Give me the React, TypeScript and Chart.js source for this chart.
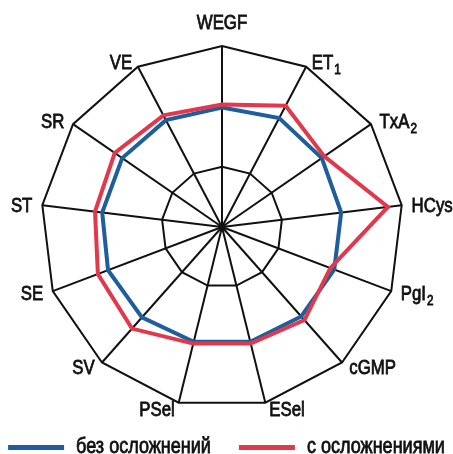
import { useEffect, useRef } from "react";
import { Chart, registerables } from "chart.js";

Chart.register(...registerables);

const categories = ["WEGF", "ET₁", "TxA₂", "HCys", "PgI₂", "cGMP", "ESel", "PSel", "SV", "SE", "ST", "SR", "VE"];
const seriesNames = ["без осложнений", "с осложнениями"];
const withoutComplications = [1.98, 2.04, 2.01, 1.99, 1.99, 1.98, 1.96, 1.96, 2.0, 2.02, 2.0, 2.01, 2.0];
const withComplications = [2.03, 2.27, 2.06, 2.77, 1.92, 2.06, 1.99, 1.99, 2.25, 2.2, 2.12, 2.16, 2.09];
const ringValues = [1, 3];
const scaleMax = 3;

const FONT = '"Liberation Sans", Arial, sans-serif';
const BLUE = "#1f5e9c";
const RED = "#e2384c";
const INK = "#111111";

// draw text horizontally condensed (the reference uses a condensed grotesque)
function drawCondensed(ctx: CanvasRenderingContext2D, text: string, x: number, y: number, sx: number) {
  ctx.save();
  ctx.translate(x, y);
  ctx.scale(sx, 1);
  ctx.fillText(text, 0, 0);
  ctx.strokeText(text, 0, 0);
  ctx.restore();
}

const hubPlugin = {
  id: "hub",
  beforeDatasetsDraw(chart: any) {
    const scale = chart.scales.r;
    const ctx = chart.ctx as CanvasRenderingContext2D;
    const c = scale.getPointPosition(0, 0);
    ctx.save();
    ctx.fillStyle = INK;
    ctx.beginPath();
    ctx.arc(c.x, c.y, 3.5, 0, Math.PI * 2);
    ctx.fill();
    ctx.restore();
  },
};

const axisLabelPlugin = {
  id: "axisLabels",
  afterDraw(chart: any) {
    const scale = chart.scales.r;
    const ctx = chart.ctx as CanvasRenderingContext2D;
    const R = scale.drawingArea;
    const fontSize = 20;
    const subSize = 14;
    const sx = 0.84;
    const capH = fontSize * 0.716;
    ctx.save();
    ctx.fillStyle = INK;
    ctx.strokeStyle = INK;
    ctx.lineWidth = 0.8;
    ctx.textBaseline = "alphabetic";
    ctx.textAlign = "left";
    categories.forEach((label, i) => {
      const c = scale.getPointPosition(i, 0);
      const px = scale.getPointPosition(i, R + 8);
      const py = scale.getPointPosition(i, R + 6);
      const dx = (px.x - c.x) / (R + 8);
      const dy = (px.y - c.y) / (R + 8);
      const m = label.match(/^(.*?)([\u2080-\u2089]*)$/) as RegExpMatchArray;
      const main = m[1];
      const sub = m[2].replace(/[\u2080-\u2089]/g, (ch) => String(ch.charCodeAt(0) - 0x2080));
      ctx.font = `${fontSize}px ${FONT}`;
      const wMain = ctx.measureText(main).width * sx;
      ctx.font = `${subSize}px ${FONT}`;
      const wSub = sub ? ctx.measureText(sub).width * sx + 1 : 0;
      const total = wMain + wSub;
      let left: number;
      let cy: number;
      if (Math.abs(dx) < 0.05) {
        left = px.x - total / 2;
        cy = py.y + dy * capH * 1.25;
      } else {
        left = dx > 0 ? px.x + 2 : px.x - 2 - total;
        cy = py.y;
      }
      const base = cy + capH / 2;
      ctx.font = `${fontSize}px ${FONT}`;
      drawCondensed(ctx, main, left, base, sx);
      if (sub) {
        ctx.font = `${subSize}px ${FONT}`;
        drawCondensed(ctx, sub, left + wMain + 1, base + 5, sx);
      }
    });
    ctx.restore();
  },
};

const seriesLegendPlugin = {
  id: "seriesLegend",
  afterDraw(chart: any) {
    const ctx = chart.ctx as CanvasRenderingContext2D;
    const datasets = chart.data.datasets;
    const fontSize = 22;
    const sx = 0.82;
    const lineLen = 56;
    const textGap = 12;
    const itemGap = 28;
    ctx.save();
    ctx.font = `${fontSize}px ${FONT}`;
    const widths = datasets.map((d: any) => ctx.measureText(d.label).width * sx);
    const total = widths.reduce((a: number, w: number) => a + lineLen + textGap + w, 0) + itemGap * (datasets.length - 1);
    let x = (chart.width - total) / 2;
    const baseline = chart.height - 1;
    const lineY = baseline - 5.5;
    datasets.forEach((d: any, i: number) => {
      ctx.strokeStyle = d.borderColor;
      ctx.lineWidth = 5;
      ctx.lineCap = "butt";
      ctx.beginPath();
      ctx.moveTo(x, lineY);
      ctx.lineTo(x + lineLen, lineY);
      ctx.stroke();
      x += lineLen + textGap;
      ctx.fillStyle = INK;
      ctx.strokeStyle = INK;
      ctx.lineWidth = 0.8;
      ctx.textBaseline = "alphabetic";
      ctx.textAlign = "left";
      drawCondensed(ctx, d.label, x, baseline, sx);
      x += widths[i] + itemGap;
    });
    ctx.restore();
  },
};

export default function App() {
  const ref = useRef<HTMLCanvasElement | null>(null);

  useEffect(() => {
    document.body.style.margin = "0";
    const canvas = ref.current;
    if (!canvas) return;
    const chart = new Chart(canvas, {
      type: "radar",
      data: {
        labels: categories,
        datasets: [
          {
            label: seriesNames[0],
            data: withoutComplications,
            borderColor: BLUE,
            backgroundColor: BLUE,
            borderWidth: 4,
            pointRadius: 0,
            fill: false,
            order: 2,
          },
          {
            label: seriesNames[1],
            data: withComplications,
            borderColor: RED,
            backgroundColor: RED,
            borderWidth: 4,
            pointRadius: 0,
            fill: false,
            order: 1,
          },
        ],
      },
      options: {
        responsive: false,
        devicePixelRatio: 1,
        animation: false,
        layout: { padding: { top: 46, left: 0, right: 9, bottom: 46 } },
        elements: { line: { tension: 0, borderJoinStyle: "miter" } },
        scales: {
          r: {
            min: 0,
            max: scaleMax,
            ticks: { display: false, stepSize: 1 },
            pointLabels: { display: false },
            grid: {
              lineWidth: 2,
              color: (c: any) => (ringValues.includes(c.tick?.value) ? INK : "rgba(0,0,0,0)"),
            },
            angleLines: { color: INK, lineWidth: 2 },
          },
        },
        plugins: {
          tooltip: { enabled: false },
          legend: { display: false },
        },
      },
      plugins: [hubPlugin, axisLabelPlugin, seriesLegendPlugin],
    });
    return () => chart.destroy();
  }, []);

  return (
    <div style={{ width: 453, height: 454 }}>
      <canvas ref={ref} width={453} height={454} style={{ display: "block" }} />
    </div>
  );
}
